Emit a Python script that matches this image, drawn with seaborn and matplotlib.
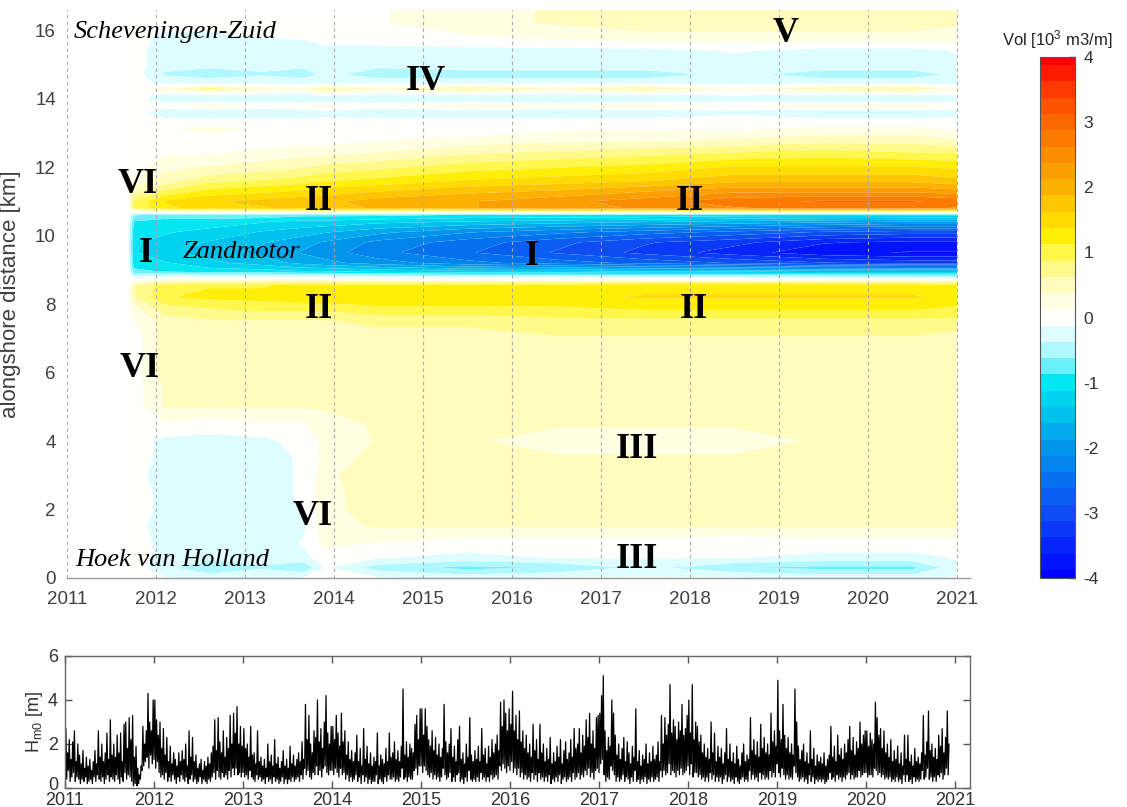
import numpy as np
import pandas as pd
import matplotlib
matplotlib.use("Agg")
import matplotlib.pyplot as plt
from matplotlib.colors import LinearSegmentedColormap
from matplotlib.transforms import ScaledTranslation
import seaborn as sns

# ---------------------------------------------------------------------------
# Volume change field: survey times (decimal year) x alongshore position (km)
# values in 10^3 m3/m
# ---------------------------------------------------------------------------
survey_times = [2011.68, 2011.75, 2012.10, 2012.60, 2013.20, 2013.65, 2013.90,
                2014.50, 2015.50, 2016.50, 2017.50, 2018.50, 2019.50, 2020.50, 2021.00]

alongshore_km = [0.0, 0.3, 0.6, 1.0, 1.5, 2.0, 2.5, 3.0, 3.5, 4.0, 4.5, 5.0, 5.5,
                 6.0, 6.5, 7.0, 7.5, 7.9, 8.2, 8.55, 8.95, 9.2, 9.5, 9.8, 10.1,
                 10.4, 10.6, 10.8, 11.0, 11.3, 11.6, 12.0, 12.4, 12.8, 13.1, 13.4,
                 13.6, 13.8, 13.95, 14.1, 14.28, 14.45, 14.7, 15.0, 15.4, 15.8,
                 16.2, 16.6]

vol_00_00 = [0, 0, -0.1, -0.2, -0.2, -0.1, 0.0, -0.1, -0.2, -0.1, -0.1, -0.1, -0.2, -0.2, -0.1]
vol_00_30 = [0, 0, -0.3, -0.6, -0.4, -0.6, -0.1, -0.5, -0.7, -0.6, -0.3, -0.6, -0.7, -0.7, -0.2]
vol_00_60 = [0, 0, -0.2, -0.3, -0.3, -0.2, 0.0, -0.1, -0.2, -0.1, -0.1, -0.1, -0.2, -0.2, -0.1]
vol_01_00 = [0, 0, -0.2, -0.3, -0.3, -0.1, 0.2, 0.1, 0.0, 0.0, 0.0, -0.1, 0.0, 0.0, 0.0]
vol_01_50 = [0, 0, -0.3, -0.3, -0.3, -0.2, 0.3, 0.4, 0.4, 0.4, 0.4, 0.4, 0.4, 0.4, 0.4]
vol_02_00 = [0, 0, -0.2, -0.2, -0.3, -0.1, 0.3, 0.5, 0.5, 0.5, 0.5, 0.5, 0.5, 0.5, 0.5]
vol_02_50 = [0, 0, -0.2, -0.3, -0.2, -0.1, 0.3, 0.5, 0.5, 0.5, 0.5, 0.5, 0.5, 0.4, 0.4]
vol_03_00 = [0, 0, -0.3, -0.2, -0.2, -0.1, 0.3, 0.6, 0.5, 0.4, 0.5, 0.4, 0.5, 0.5, 0.4]
vol_03_50 = [0, 0, -0.2, -0.3, -0.2, -0.1, 0.2, 0.5, 0.4, 0.4, 0.4, 0.4, 0.4, 0.4, 0.4]
vol_04_00 = [0, 0, -0.2, -0.2, -0.2, 0.0, 0.2, 0.4, 0.4, 0.3, 0.3, 0.3, 0.4, 0.4, 0.4]
vol_04_50 = [0, 0, 0.1, 0.0, 0.1, 0.1, 0.3, 0.4, 0.4, 0.4, 0.4, 0.4, 0.4, 0.4, 0.4]
vol_05_00 = [0, 0, 0.4, 0.4, 0.4, 0.4, 0.4, 0.5, 0.5, 0.5, 0.5, 0.5, 0.5, 0.5, 0.5]
vol_05_50 = [0, 0, 0.4, 0.4, 0.4, 0.4, 0.4, 0.4, 0.4, 0.5, 0.4, 0.4, 0.4, 0.4, 0.4]
vol_06_00 = [0, 0, 0.5, 0.5, 0.5, 0.5, 0.4, 0.5, 0.5, 0.5, 0.5, 0.5, 0.5, 0.5, 0.5]
vol_06_50 = [0, 0, 0.5, 0.5, 0.5, 0.5, 0.5, 0.5, 0.5, 0.5, 0.5, 0.5, 0.5, 0.5, 0.5]
vol_07_00 = [0, 0, 0.5, 0.5, 0.5, 0.5, 0.5, 0.5, 0.5, 0.6, 0.6, 0.6, 0.6, 0.6, 0.5]
vol_07_50 = [0, 0.1, 0.5, 0.6, 0.6, 0.6, 0.6, 0.7, 0.7, 0.8, 0.8, 0.8, 0.8, 0.8, 0.8]
vol_07_90 = [0, 0.3, 0.8, 0.9, 1.0, 1.0, 1.0, 1.1, 1.1, 1.1, 1.2, 1.2, 1.2, 1.2, 1.1]
vol_08_20 = [0, 0.6, 1.1, 1.2, 1.2, 1.3, 1.3, 1.3, 1.3, 1.3, 1.4, 1.4, 1.4, 1.4, 1.3]
vol_08_55 = [0, 0.6, 1.0, 1.1, 1.1, 1.2, 1.2, 1.2, 1.2, 1.2, 1.3, 1.3, 1.3, 1.3, 1.2]
vol_08_95 = [0, -0.8, -0.9, -1.0, -1.0, -1.1, -1.1, -1.2, -1.3, -1.3, -1.4, -1.4, -1.5, -1.5, -1.5]
vol_09_20 = [0, -1.0, -1.1, -1.3, -1.5, -1.7, -1.8, -2.0, -2.3, -2.5, -2.7, -2.9, -3.1, -3.2, -3.2]
vol_09_50 = [0, -1.1, -1.3, -1.5, -1.7, -1.9, -2.0, -2.3, -2.6, -2.9, -3.2, -3.5, -3.8, -3.9, -3.9]
vol_09_80 = [0, -1.1, -1.2, -1.4, -1.6, -1.8, -1.9, -2.2, -2.5, -2.8, -3.1, -3.3, -3.6, -3.7, -3.7]
vol_10_10 = [0, -1.0, -1.1, -1.2, -1.4, -1.5, -1.6, -1.8, -2.1, -2.3, -2.5, -2.7, -2.9, -3.0, -3.0]
vol_10_40 = [0, -0.9, -1.0, -1.0, -1.1, -1.2, -1.2, -1.3, -1.4, -1.5, -1.6, -1.7, -1.8, -1.9, -1.9]
vol_10_60 = [0, -0.6, -0.7, -0.7, -0.7, -0.8, -0.8, -0.8, -0.9, -0.9, -0.9, -1.0, -1.0, -1.0, -1.0]
vol_10_80 = [0, 0.9, 1.3, 1.5, 1.6, 1.7, 1.8, 1.9, 2.1, 2.3, 2.4, 2.6, 2.7, 2.7, 2.6]
vol_11_00 = [0, 0.9, 1.4, 1.6, 1.7, 1.8, 1.8, 2.0, 2.1, 2.3, 2.5, 2.8, 2.9, 2.9, 2.8]
vol_11_30 = [0, 0.5, 0.9, 1.2, 1.3, 1.4, 1.5, 1.6, 1.8, 1.9, 2.1, 2.3, 2.3, 2.3, 2.2]
vol_11_60 = [0, 0.2, 0.5, 0.8, 0.9, 1.0, 1.1, 1.2, 1.4, 1.5, 1.6, 1.8, 1.8, 1.8, 1.7]
vol_12_00 = [0, 0, 0.3, 0.4, 0.5, 0.6, 0.7, 0.8, 1.0, 1.1, 1.2, 1.4, 1.4, 1.4, 1.3]
vol_12_40 = [0, 0, 0.1, 0.1, 0.2, 0.3, 0.3, 0.4, 0.6, 0.7, 0.8, 0.9, 1.0, 0.9, 0.9]
vol_12_80 = [0, 0, 0.0, 0.0, 0.0, 0.0, 0.0, 0.1, 0.2, 0.3, 0.3, 0.4, 0.5, 0.5, 0.4]
vol_13_10 = [0, 0, 0.1, 0.2, 0.1, 0.1, 0.0, 0.0, -0.1, 0.1, 0.1, 0.1, 0.2, 0.2, 0.1]
vol_13_40 = [0, 0, -0.1, -0.1, -0.1, -0.1, -0.1, -0.1, -0.1, -0.1, -0.1, 0.0, -0.1, -0.1, -0.1]
vol_13_60 = [0, 0, -0.3, -0.4, -0.3, -0.4, -0.2, -0.4, -0.3, -0.4, -0.3, -0.2, -0.4, -0.4, -0.2]
vol_13_80 = [0, 0, 0.1, 0.3, 0.1, 0.2, 0.2, 0.1, 0.3, 0.2, 0.3, 0.1, 0.3, 0.3, 0.1]
vol_13_95 = [0, 0, -0.3, -0.4, -0.3, -0.4, -0.3, -0.4, -0.4, -0.4, -0.4, -0.2, -0.4, -0.4, -0.2]
vol_14_10 = [0, 0, -0.2, -0.2, -0.2, -0.2, -0.1, -0.2, -0.2, -0.2, -0.2, -0.1, -0.2, -0.2, -0.1]
vol_14_28 = [0, 0, 0.3, 0.8, 0.4, 0.3, 0.7, 0.4, 0.7, 0.4, 0.7, 0.2, 0.6, 0.7, 0.2]
vol_14_45 = [0, 0, -0.2, -0.2, -0.2, -0.2, -0.2, -0.2, -0.2, -0.2, -0.2, -0.2, -0.2, -0.2, -0.2]
vol_14_70 = [0, 0, -0.4, -0.5, -0.4, -0.5, -0.3, -0.5, -0.5, -0.5, -0.5, -0.3, -0.5, -0.5, -0.3]
vol_15_00 = [0, 0, -0.3, -0.3, -0.3, -0.3, -0.2, -0.3, -0.2, -0.2, -0.2, -0.2, -0.2, -0.2, -0.2]
vol_15_40 = [0, 0, -0.3, -0.3, -0.3, -0.2, -0.2, -0.2, -0.2, -0.2, -0.2, -0.1, -0.2, -0.2, -0.1]
vol_15_80 = [0, 0, -0.2, -0.2, -0.1, -0.1, 0.0, 0.0, 0.1, 0.2, 0.3, 0.3, 0.3, 0.3, 0.3]
vol_16_20 = [0, 0, 0.0, 0.0, 0.0, 0.0, 0.1, 0.1, 0.3, 0.4, 0.5, 0.5, 0.5, 0.5, 0.4]
vol_16_60 = [0, 0, 0.0, 0.0, 0.0, 0.0, 0.1, 0.1, 0.3, 0.4, 0.5, 0.5, 0.5, 0.5, 0.4]

# ---------------------------------------------------------------------------
# Significant wave height Hm0 [m]: weekly low and weekly high per year
# ---------------------------------------------------------------------------
hm0_years = [2011, 2012, 2013, 2014, 2015, 2016, 2017, 2018, 2019, 2020]

hm0_high_2011 = [2.7, 1.6, 2.2, 1.3, 2.1, 2.6, 1.2, 2.0, 1.5, 1.1, 1.7, 0.9, 1.4,
                 1.0, 1.3, 0.8, 1.2, 1.7, 1.1, 2.6, 1.4, 2.0, 1.2, 1.6, 2.5, 1.3,
                 3.1, 1.5, 2.0, 1.4, 2.4, 1.6, 2.5, 1.2, 2.9, 3.0, 1.8, 3.2, 2.2,
                 3.3, 1.4, 1.9, 0.9, 0.6, 1.0, 2.8, 2.0, 2.6, 4.3, 3.0, 2.6, 4.0]
hm0_low_2011 = [0.6, 0.4, 0.8, 0.3, 0.5, 0.7, 0.3, 0.5, 0.4, 0.2, 0.4, 0.3, 0.5,
                0.2, 0.3, 0.4, 0.2, 0.5, 0.3, 0.6, 0.4, 0.3, 0.5, 0.2, 0.4, 0.6,
                0.3, 0.5, 0.4, 0.3, 0.6, 0.4, 0.2, 0.5, 0.3, 0.7, 0.4, 0.6, 0.5,
                0.3, 0.1, 0.2, 0.1, 0.2, 0.4, 0.8, 1.0, 1.2, 1.4, 0.9, 1.5, 1.1]

hm0_high_2012 = [4.0, 3.1, 2.4, 3.0, 1.8, 2.7, 1.5, 2.3, 1.2, 1.9, 1.1, 1.6, 1.3,
                 1.0, 1.6, 1.2, 1.7, 1.3, 2.0, 1.0, 2.6, 1.4, 2.3, 1.2, 1.5, 0.9,
                 1.1, 1.3, 0.8, 1.2, 1.0, 1.4, 1.1, 1.6, 1.9, 3.1, 1.7, 3.2, 2.1,
                 1.6, 2.6, 1.4, 2.3, 1.8, 3.3, 2.0, 3.4, 2.5, 3.7, 2.0, 2.8, 1.9]
hm0_low_2012 = [1.3, 0.9, 1.2, 0.7, 0.5, 0.6, 0.4, 0.7, 0.3, 0.5, 0.3, 0.6, 0.4,
                0.2, 0.5, 0.3, 0.6, 0.4, 0.3, 0.5, 0.2, 0.4, 0.6, 0.3, 0.4, 0.2,
                0.3, 0.5, 0.2, 0.4, 0.3, 0.2, 0.4, 0.3, 0.5, 0.7, 0.4, 0.8, 0.5,
                0.4, 0.7, 0.5, 0.6, 0.4, 0.8, 0.5, 0.9, 0.6, 0.9, 0.6, 0.7, 0.5]

hm0_high_2013 = [2.7, 1.8, 2.0, 1.4, 2.8, 1.5, 1.6, 1.1, 2.6, 1.2, 1.4, 1.0, 1.3,
                 0.9, 2.0, 1.2, 1.5, 1.0, 2.2, 1.1, 1.4, 0.9, 1.2, 1.7, 1.0, 1.3,
                 0.9, 1.9, 1.1, 1.5, 1.0, 1.3, 1.6, 1.2, 2.1, 1.3, 3.8, 2.2, 3.3,
                 2.0, 1.6, 2.6, 2.3, 4.0, 2.1, 2.7, 1.8, 3.0, 4.2, 2.5, 2.0, 2.8]
hm0_low_2013 = [0.7, 0.5, 0.6, 0.4, 0.8, 0.5, 0.4, 0.3, 0.6, 0.4, 0.5, 0.3, 0.4,
                0.2, 0.5, 0.3, 0.4, 0.2, 0.5, 0.3, 0.4, 0.2, 0.3, 0.5, 0.2, 0.4,
                0.2, 0.4, 0.3, 0.5, 0.3, 0.4, 0.5, 0.3, 0.6, 0.4, 0.9, 0.6, 0.8,
                0.5, 0.4, 0.7, 0.6, 1.0, 0.6, 0.8, 0.5, 0.9, 1.0, 0.7, 0.6, 0.8]

hm0_high_2014 = [2.8, 2.2, 3.3, 2.5, 1.9, 3.4, 2.1, 2.6, 1.5, 2.1, 1.3, 1.7, 1.2,
                 1.6, 2.4, 1.2, 1.8, 1.0, 2.7, 1.3, 1.9, 1.1, 1.6, 1.0, 1.4, 1.2,
                 2.5, 1.0, 1.5, 1.3, 1.1, 1.8, 1.2, 2.5, 1.4, 1.6, 2.1, 1.3, 1.7,
                 1.2, 1.9, 4.5, 1.5, 2.1, 1.4, 2.0, 1.8, 1.6, 2.9, 3.3, 2.2, 3.6]
hm0_low_2014 = [0.8, 0.6, 0.9, 0.7, 0.5, 0.9, 0.6, 0.7, 0.4, 0.6, 0.3, 0.5, 0.3,
                0.4, 0.6, 0.3, 0.5, 0.2, 0.6, 0.3, 0.5, 0.2, 0.4, 0.2, 0.3, 0.3,
                0.6, 0.2, 0.4, 0.3, 0.2, 0.5, 0.3, 0.6, 0.4, 0.4, 0.5, 0.3, 0.4,
                0.3, 0.5, 0.9, 0.4, 0.5, 0.3, 0.5, 0.4, 0.4, 0.8, 0.9, 0.6, 1.0]

hm0_high_2015 = [3.6, 2.4, 3.6, 2.8, 2.2, 1.9, 2.6, 1.7, 2.3, 1.5, 2.0, 1.4, 1.8,
                 3.8, 2.1, 1.6, 2.0, 2.7, 1.4, 1.9, 1.2, 2.2, 2.8, 1.3, 1.6, 1.1,
                 2.0, 1.4, 3.2, 1.5, 1.2, 1.7, 1.3, 1.9, 1.2, 2.7, 1.5, 1.8, 1.1,
                 1.9, 1.4, 2.2, 1.6, 2.0, 2.4, 1.7, 3.9, 2.8, 4.0, 3.4, 2.6, 3.6]
hm0_low_2015 = [1.0, 0.7, 1.0, 0.8, 0.6, 0.5, 0.7, 0.4, 0.6, 0.4, 0.5, 0.3, 0.5,
                0.9, 0.6, 0.4, 0.5, 0.7, 0.3, 0.5, 0.3, 0.6, 0.7, 0.3, 0.4, 0.2,
                0.5, 0.3, 0.8, 0.4, 0.3, 0.4, 0.3, 0.5, 0.3, 0.7, 0.4, 0.5, 0.3,
                0.5, 0.3, 0.6, 0.4, 0.5, 0.6, 0.4, 1.0, 0.8, 1.1, 0.9, 0.7, 1.0]

hm0_high_2016 = [2.9, 4.4, 2.6, 3.3, 2.2, 3.5, 2.1, 2.6, 1.8, 2.4, 1.6, 2.0, 1.4,
                 2.9, 1.7, 2.2, 1.3, 2.9, 1.6, 2.0, 1.2, 1.8, 1.3, 2.3, 1.1, 1.6,
                 1.2, 1.9, 1.4, 2.2, 1.1, 1.7, 2.1, 1.3, 1.6, 2.2, 1.4, 2.7, 1.8,
                 2.0, 2.7, 1.6, 2.4, 1.9, 3.1, 2.3, 3.4, 2.0, 2.6, 1.8, 3.2, 3.3]
hm0_low_2016 = [0.8, 1.2, 0.7, 0.9, 0.6, 0.9, 0.5, 0.7, 0.4, 0.6, 0.4, 0.5, 0.3,
                0.7, 0.4, 0.6, 0.3, 0.7, 0.4, 0.5, 0.3, 0.5, 0.3, 0.6, 0.2, 0.4,
                0.3, 0.5, 0.3, 0.6, 0.2, 0.4, 0.5, 0.3, 0.4, 0.5, 0.3, 0.7, 0.4,
                0.5, 0.7, 0.4, 0.6, 0.5, 0.8, 0.6, 0.9, 0.5, 0.7, 0.4, 0.8, 0.9]

hm0_high_2017 = [3.4, 4.2, 5.1, 2.6, 1.7, 2.3, 1.9, 4.0, 3.4, 2.4, 1.5, 2.0, 1.3,
                 1.8, 2.3, 1.2, 2.1, 1.6, 1.1, 1.9, 1.4, 3.6, 1.2, 1.7, 1.0, 1.5,
                 1.3, 2.0, 1.1, 1.6, 1.2, 1.9, 1.3, 1.5, 2.1, 1.2, 3.3, 2.0, 3.2,
                 2.4, 2.9, 4.7, 2.5, 3.1, 2.8, 2.2, 3.0, 2.6, 3.8, 2.4, 2.7, 3.3]
hm0_low_2017 = [0.7, 1.1, 1.3, 0.6, 0.3, 0.5, 0.4, 1.0, 0.8, 0.6, 0.3, 0.5, 0.3,
                0.4, 0.6, 0.3, 0.5, 0.4, 0.2, 0.5, 0.3, 0.8, 0.3, 0.4, 0.2, 0.4,
                0.3, 0.5, 0.2, 0.4, 0.3, 0.5, 0.3, 0.4, 0.5, 0.3, 0.8, 0.5, 0.8,
                0.6, 0.7, 1.1, 0.6, 0.8, 0.7, 0.5, 0.8, 0.6, 0.9, 0.6, 0.7, 0.8]

hm0_high_2018 = [4.0, 2.5, 4.7, 2.2, 3.0, 2.8, 2.1, 2.4, 1.6, 2.0, 1.4, 1.8, 1.3,
                 3.0, 1.6, 2.5, 1.2, 1.9, 1.4, 1.8, 1.1, 1.6, 2.7, 1.3, 2.0, 1.2,
                 1.6, 1.1, 1.9, 1.3, 1.0, 1.6, 2.0, 1.2, 1.5, 1.3, 3.2, 1.7, 2.2,
                 1.5, 2.1, 1.4, 2.9, 1.8, 2.3, 1.6, 2.0, 1.5, 3.4, 2.1, 2.6, 1.9]
hm0_low_2018 = [1.0, 0.6, 1.1, 0.5, 0.7, 0.7, 0.5, 0.6, 0.4, 0.5, 0.3, 0.5, 0.3,
                0.7, 0.4, 0.6, 0.3, 0.5, 0.3, 0.5, 0.2, 0.4, 0.6, 0.3, 0.5, 0.3,
                0.4, 0.2, 0.5, 0.3, 0.2, 0.4, 0.5, 0.3, 0.4, 0.3, 0.8, 0.4, 0.6,
                0.4, 0.5, 0.3, 0.7, 0.4, 0.6, 0.4, 0.5, 0.4, 0.8, 0.5, 0.7, 0.5]

hm0_high_2019 = [4.9, 2.6, 2.2, 3.8, 2.4, 1.8, 2.3, 1.6, 2.0, 1.5, 4.5, 3.0, 1.9,
                 1.3, 1.7, 2.0, 1.2, 1.6, 1.1, 2.6, 1.3, 1.8, 1.0, 1.5, 1.2, 1.4,
                 1.1, 1.6, 1.0, 1.3, 1.5, 2.8, 1.4, 1.9, 1.2, 2.4, 1.5, 1.8, 1.3,
                 2.0, 1.6, 2.2, 2.8, 1.7, 2.3, 1.5, 2.1, 1.8, 3.0, 2.0, 2.4, 2.6]
hm0_low_2019 = [1.1, 0.7, 0.5, 0.9, 0.6, 0.4, 0.6, 0.4, 0.5, 0.4, 1.0, 0.7, 0.5,
                0.3, 0.4, 0.5, 0.3, 0.4, 0.2, 0.6, 0.3, 0.5, 0.2, 0.4, 0.3, 0.4,
                0.3, 0.4, 0.2, 0.3, 0.4, 0.7, 0.4, 0.5, 0.3, 0.6, 0.4, 0.5, 0.3,
                0.5, 0.4, 0.6, 0.7, 0.4, 0.6, 0.4, 0.5, 0.5, 0.8, 0.5, 0.6, 0.7]

hm0_high_2020 = [2.6, 1.9, 2.5, 2.2, 2.0, 3.9, 3.2, 2.4, 2.7, 1.8, 2.6, 1.6, 2.0,
                 1.4, 2.2, 1.2, 1.7, 1.3, 1.9, 1.1, 1.6, 1.0, 2.4, 1.3, 2.4, 1.2,
                 1.5, 1.0, 1.8, 1.2, 1.4, 1.1, 1.6, 3.3, 1.5, 2.1, 3.5, 1.7, 2.0,
                 1.4, 1.8, 1.3, 2.4, 1.9, 2.7, 1.6, 2.3, 3.5, 2.0]
hm0_low_2020 = [0.7, 0.5, 0.6, 0.6, 0.5, 0.9, 0.8, 0.6, 0.7, 0.5, 0.6, 0.4, 0.5,
                0.4, 0.5, 0.3, 0.4, 0.3, 0.5, 0.3, 0.4, 0.2, 0.6, 0.3, 0.6, 0.3,
                0.4, 0.2, 0.5, 0.3, 0.4, 0.3, 0.4, 0.8, 0.4, 0.5, 0.9, 0.4, 0.5,
                0.3, 0.5, 0.3, 0.6, 0.5, 0.7, 0.4, 0.6, 0.9, 0.6]

year_ticks = [2011, 2012, 2013, 2014, 2015, 2016, 2017, 2018, 2019, 2020, 2021]
vol_ticks = [-4, -3, -2, -1, 0, 1, 2, 3, 4]
hm0_ticks = [0, 2, 4, 6]

# annotations in the field: (text, decimal year, km baseline)
zone_labels = [("VI", 2011.79, 11.24), ("II", 2013.83, 10.74), ("II", 2018.00, 10.74),
               ("I", 2011.88, 9.23), ("I", 2016.22, 9.14), ("II", 2013.83, 7.59),
               ("II", 2018.04, 7.59), ("VI", 2011.82, 5.87), ("III", 2017.40, 3.50),
               ("VI", 2013.76, 1.55), ("III", 2017.40, 0.29), ("IV", 2015.03, 14.25),
               ("V", 2019.07, 15.65)]
place_labels = [("Scheveningen-Zuid", 2011.07, 15.77), ("Zandmotor", 2012.30, 9.34),
                ("Hoek van Holland", 2011.09, 0.35)]

# ---------------------------------------------------------------------------
sns.set_theme(style="white")
plt.rcParams["font.family"] = ["Liberation Sans", "DejaVu Sans"]
plt.rcParams["mathtext.fontset"] = "custom"
plt.rcParams["mathtext.rm"] = "Liberation Sans"
plt.rcParams["mathtext.it"] = "Liberation Sans:italic"
plt.rcParams["mathtext.bf"] = "Liberation Sans:bold"

W, H = 1127, 807
fig = plt.figure(figsize=(W / 100, H / 100), dpi=100)


def px_axes(left, top, right, bottom):
    return fig.add_axes([left / W, 1 - bottom / H, (right - left) / W, (bottom - top) / H])


ax = px_axes(67, 10, 970, 578)
cax = px_axes(1040, 57, 1075, 578)
ax2 = px_axes(65, 656, 970, 788)

# diverging blue - cyan - white - yellow - red colour scale, 33 discrete bands
anchors = [(-4.0, (0.00, 0.00, 1.00)), (-3.0, (0.05, 0.30, 0.95)), (-2.0, (0.00, 0.58, 0.92)),
           (-1.5, (0.00, 0.75, 0.93)), (-1.0, (0.00, 0.90, 0.95)), (-0.75, (0.40, 0.94, 0.98)),
           (-0.5, (0.68, 0.97, 1.00)), (-0.25, (0.86, 0.99, 1.00)), (0.0, (1.00, 1.00, 1.00)),
           (0.25, (1.00, 1.00, 0.90)), (0.5, (1.00, 0.99, 0.76)), (0.75, (1.00, 0.98, 0.56)),
           (1.0, (1.00, 0.97, 0.32)), (1.3, (1.00, 0.93, 0.00)),
           (1.7, (1.00, 0.80, 0.00)), (2.0, (0.99, 0.70, 0.00)), (2.5, (0.98, 0.56, 0.00)),
           (3.0, (0.98, 0.42, 0.00)), (3.5, (1.00, 0.24, 0.00)), (4.0, (1.00, 0.00, 0.00))]
base_cmap = LinearSegmentedColormap.from_list(
    "vol", [((v + 4) / 8, c) for v, c in anchors])
levels = np.arange(-4.125, 4.126, 0.25)
band_centres = 0.5 * (levels[:-1] + levels[1:])
band_colours = [base_cmap((c + 4) / 8) for c in band_centres]

vol_rows = [vol_00_00, vol_00_30, vol_00_60, vol_01_00, vol_01_50, vol_02_00, vol_02_50,
            vol_03_00, vol_03_50, vol_04_00, vol_04_50, vol_05_00, vol_05_50, vol_06_00,
            vol_06_50, vol_07_00, vol_07_50, vol_07_90, vol_08_20, vol_08_55, vol_08_95,
            vol_09_20, vol_09_50, vol_09_80, vol_10_10, vol_10_40, vol_10_60, vol_10_80,
            vol_11_00, vol_11_30, vol_11_60, vol_12_00, vol_12_40, vol_12_80, vol_13_10,
            vol_13_40, vol_13_60, vol_13_80, vol_13_95, vol_14_10, vol_14_28, vol_14_45,
            vol_14_70, vol_15_00, vol_15_40, vol_15_80, vol_16_20, vol_16_60]
Z = np.array(vol_rows, dtype=float)
TT, YY = np.meshgrid(survey_times, alongshore_km)
cs = ax.contourf(TT, YY, Z, levels=levels, colors=band_colours, antialiased=True)

ax.set_xlim(2011, 2021 + 13 / 89)
ax.set_ylim(0, 568 / 34.25)
ax.set_xticks(year_ticks)
ax.set_xticklabels([str(y) for y in year_ticks])
ax.set_yticks(range(0, 17, 2))
ax.tick_params(axis="both", length=0, labelsize=13.5, labelcolor="#404040")
ax.tick_params(axis="x", pad=9)
ax.tick_params(axis="y", pad=8)
ax.set_axisbelow(False)
ax.grid(axis="x", color="#a8a8a8", linestyle=(0, (3, 3)), linewidth=0.8)
ax.grid(axis="y", visible=False)
for side in ["top", "right", "left"]:
    ax.spines[side].set_visible(False)
ax.spines["bottom"].set_color("#9a9a9a")
ax.spines["bottom"].set_linewidth(1.0)
ax.set_ylabel("alongshore distance [km]", fontsize=16, color="#404040", labelpad=10)

for txt, xx, yy in zone_labels:
    ax.text(xx, yy, txt, ha="center", va="baseline", fontsize=26,
            family="Liberation Serif", weight="bold", color="black", zorder=5)
for txt, xx, yy in place_labels:
    ax.text(xx, yy, txt, ha="left", va="baseline", fontsize=19,
            family="Liberation Serif", style="italic", color="black", zorder=5)

# colour bar
cb = fig.colorbar(cs, cax=cax, ticks=vol_ticks)
cax.set_ylim(-4, 4)
cb.outline.set_edgecolor("#555555")
cb.outline.set_linewidth(0.8)
cax.tick_params(axis="y", direction="in", length=4, width=1, color="#333333",
                labelsize=12.5, labelcolor="#333333", pad=6, right=True, left=False)
cax.set_yticklabels([str(v) for v in vol_ticks])
fig.text(1057 / W, 1 - 40 / H, "Vol [10$^3$ m3/m]", ha="center", va="center",
         fontsize=12, color="#222222")

# wave height time series
t_list, h_list = [], []
lows = [hm0_low_2011, hm0_low_2012, hm0_low_2013, hm0_low_2014, hm0_low_2015,
        hm0_low_2016, hm0_low_2017, hm0_low_2018, hm0_low_2019, hm0_low_2020]
highs = [hm0_high_2011, hm0_high_2012, hm0_high_2013, hm0_high_2014, hm0_high_2015,
         hm0_high_2016, hm0_high_2017, hm0_high_2018, hm0_high_2019, hm0_high_2020]
for yr, lo_vals, hi_vals in zip(hm0_years, lows, highs):
    for i, (lo, hi) in enumerate(zip(lo_vals, hi_vals)):
        t_list += [yr + i / 52, yr + (i + 0.5) / 52]
        h_list += [lo, hi]
waves = pd.DataFrame({"time": t_list, "hm0": h_list})
sns.lineplot(data=waves, x="time", y="hm0", color="black", linewidth=0.9,
             estimator=None, ax=ax2)

ax2.set_xlim(2011, 2021 + 15 / 89)
ax2.set_ylim(0, 6)
ax2.set_xticks(year_ticks)
ax2.set_xticklabels([str(y) for y in year_ticks])
ax2.set_yticks(hm0_ticks)
ax2.tick_params(axis="both", direction="in", length=5, width=1, color="#555555",
                labelsize=13, labelcolor="#333333",
                bottom=True, top=True, left=True, right=True)
ax2.tick_params(axis="x", pad=3)
ax2.tick_params(axis="y", pad=5)
# lift the lowest y label clear of the first year label
for lab in ax2.get_yticklabels():
    if lab.get_text() == "0":
        lab.set_transform(lab.get_transform() + ScaledTranslation(0, 5 / 100, fig.dpi_scale_trans))
for side in ["top", "right", "left", "bottom"]:
    ax2.spines[side].set_color("#666666")
    ax2.spines[side].set_linewidth(1.0)
ax2.set_xlabel("")
ax2.set_ylabel(r"H$_{\mathrm{m0}}$ [m]", fontsize=13, color="#333333", labelpad=2)

fig.savefig("out.png", dpi=100)
